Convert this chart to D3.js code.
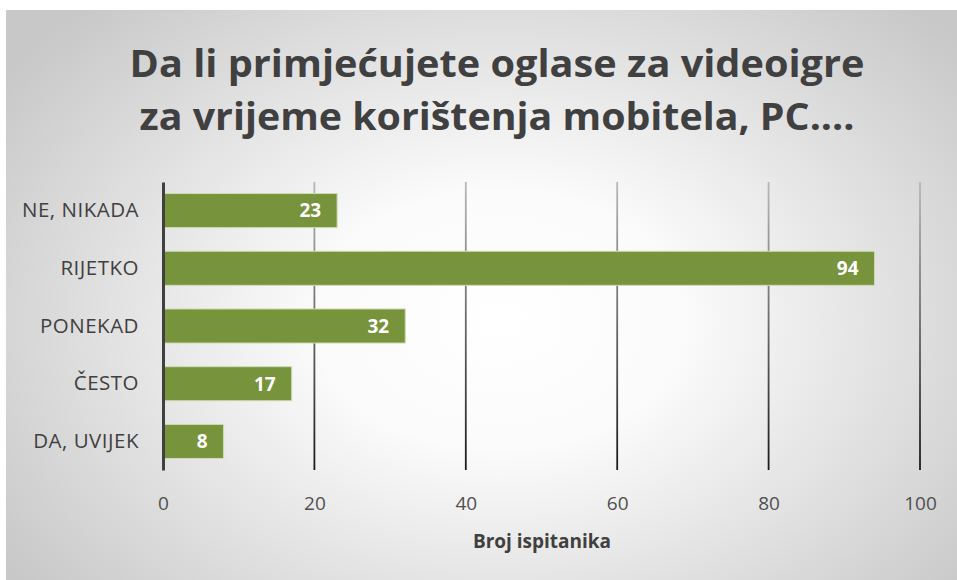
<!DOCTYPE html>
<html><head><meta charset="utf-8">
<script src="https://cdn.jsdelivr.net/npm/d3@7"></script>
<style>body{margin:0;background:#fff}svg{display:block}</style>
</head><body>
<svg id="c" width="957" height="580"></svg>
<script>
const categories = ["NE, NIKADA", "RIJETKO", "PONEKAD", "ČESTO", "DA, UVIJEK"];
const values = [23, 94, 32, 17, 8];
const tickValues = [0, 20, 40, 60, 80, 100];
const titleLines = ["Da li primjećujete oglase za videoigre", "za vrijeme korištenja mobitela, PC...."];
const axisTitle = "Broj ispitanika";

const svg = d3.select("#c");
const W = 957, H = 580;
const font = "'Open Sans', 'Noto Sans', sans-serif";

const defs = svg.append("defs");
const rg = defs.append("radialGradient").attr("id", "bg")
  .attr("gradientUnits", "userSpaceOnUse").attr("cx", 500).attr("cy", 320).attr("r", 600)
  .attr("gradientTransform", "translate(500,320) scale(1,0.72) translate(-500,-320)");
rg.append("stop").attr("offset", 0).attr("stop-color", "#ffffff");
rg.append("stop").attr("offset", 0.3).attr("stop-color", "#fbfbfb");
rg.append("stop").attr("offset", 1).attr("stop-color", "#c8c8c8");
const lg = defs.append("linearGradient").attr("id", "grid").attr("x1", 0).attr("y1", 0).attr("x2", 0).attr("y2", 1);
lg.append("stop").attr("offset", 0).attr("stop-color", "#b8b8b8");
lg.append("stop").attr("offset", 1).attr("stop-color", "#1a1a1a");

svg.append("rect").attr("x", 6).attr("y", 10).attr("width", W - 6).attr("height", H - 10).attr("fill", "url(#bg)");

const m = {left: 163, right: 920, top: 182, bottom: 470};
const x = d3.scaleLinear().domain([0, 100]).range([m.left, m.right]);
const y = d3.scaleBand().domain(categories).range([m.top, m.bottom]).paddingInner(0.41).paddingOuter(0.2);

// gridlines
svg.append("g").selectAll("rect").data(tickValues.filter(d => d > 0)).join("rect")
  .attr("x", d => x(d) - 0.9).attr("y", m.top).attr("width", 1.8).attr("height", m.bottom - m.top)
  .attr("fill", "url(#grid)");

// bars
svg.append("g").selectAll("rect").data(values).join("rect")
  .attr("x", x(0)).attr("y", (d, i) => y(categories[i]))
  .attr("width", d => x(d) - x(0)).attr("height", y.bandwidth())
  .attr("fill", "#77933c").attr("stroke", "#cfdcb4").attr("stroke-width", 1);

// value labels
svg.append("g").selectAll("text").data(values).join("text")
  .attr("x", d => x(d) - 16).attr("y", (d, i) => y(categories[i]) + y.bandwidth() / 2)
  .attr("dy", "0.36em").attr("text-anchor", "end")
  .attr("font-family", font).attr("font-weight", "bold").attr("font-size", 19)
  .attr("fill", "#ffffff").text(d => d);

// y axis
const ya = svg.append("g").attr("transform", `translate(${m.left},0)`)
  .call(d3.axisLeft(y).tickSize(0).tickPadding(24));
ya.select(".domain").attr("stroke", "#404040").attr("stroke-width", 3);
ya.selectAll("text").attr("font-family", font).attr("font-size", 20.5)
  .attr("letter-spacing", "0.5px").attr("fill", "#404040");

// x axis
const xa = svg.append("g").attr("transform", `translate(0,${m.bottom})`)
  .call(d3.axisBottom(x).tickValues(tickValues).tickSize(0).tickPadding(27));
xa.select(".domain").remove();
xa.selectAll("text").attr("font-family", font).attr("font-size", 19).attr("fill", "#505050");

// axis title
svg.append("text").attr("x", 542).attr("y", 548).attr("text-anchor", "middle")
  .attr("font-family", font).attr("font-weight", "bold").attr("font-size", 19).attr("fill", "#404040")
  .text(axisTitle);

// title
const tl = svg.append("g").selectAll("text").data(titleLines).join("text")
  .attr("x", 497).attr("y", (d, i) => 77 + i * 53).attr("text-anchor", "middle")
  .attr("font-family", font).attr("font-weight", "bold").attr("font-size", 38).attr("fill", "#404040")
  .text(d => d);
const targetW = [735, 715];
tl.attr("textLength", (d, i) => targetW[i]).attr("lengthAdjust", "spacingAndGlyphs");
</script>
</body></html>
